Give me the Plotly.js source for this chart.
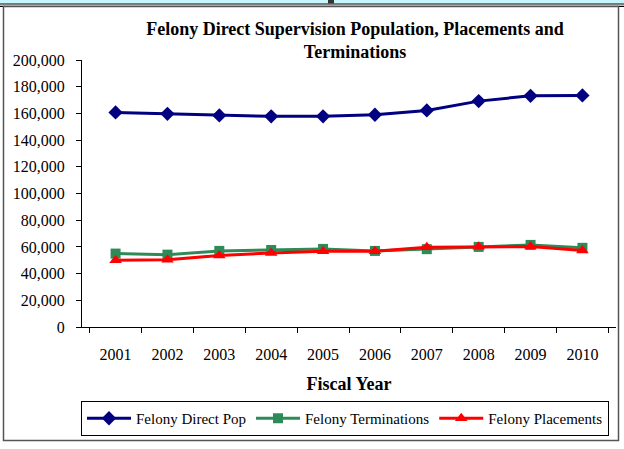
<!DOCTYPE html>
<html>
<head>
<meta charset="utf-8">
<script src="https://cdn.plot.ly/plotly-3.0.1.min.js"></script>
<style>
html,body{margin:0;padding:0;background:#fff;}
#chart{width:624px;height:449px;}
</style>
</head>
<body>
<div id="chart"></div>
<script>
const years = ['2001','2002','2003','2004','2005','2006','2007','2008','2009','2010'];
const directPop = [160700, 159700, 158500, 157800, 157800, 159000, 162200, 169200, 173200, 173500];
const terminations = [55000, 54200, 57000, 57700, 58500, 57000, 58300, 60000, 61500, 59300];
const placements = [50000, 50300, 53600, 55500, 56800, 56800, 59800, 60200, 60300, 57300];
const yTicks = [0, 20000, 40000, 60000, 80000, 100000, 120000, 140000, 160000, 180000, 200000];
const yTickText = ['0','20,000','40,000','60,000','80,000','100,000','120,000','140,000','160,000','180,000','200,000'];

const W = 624, H = 449;
const M = {l: 82, r: 8, t: 60, b: 122};
const pw = W - M.l - M.r, ph = H - M.t - M.b;
const px = x => (x - M.l) / pw;
const py = y => (H - M.b - y) / ph;

const font = 'Liberation Serif, Times New Roman, serif';

const traces = [
  {x: years, y: directPop, name: 'Felony Direct Pop', type: 'scatter', mode: 'lines+markers',
   line: {color: '#000080', width: 3}, marker: {symbol: 'diamond', size: 11, color: '#000080'}},
  {x: years, y: terminations, name: 'Felony Terminations', type: 'scatter', mode: 'lines+markers',
   line: {color: '#2e8b57', width: 3}, marker: {symbol: 'square', size: 10, color: '#2e8b57'}},
  {x: years, y: placements, name: 'Felony Placements', type: 'scatter', mode: 'lines+markers',
   line: {color: '#ff0000', width: 3}, marker: {symbol: 'triangle-up', size: 11, color: '#ff0000'}}
];

const shapes = [
  {type: 'rect', xref: 'paper', yref: 'paper', x0: px(0), x1: px(W), y0: py(0), y1: py(3.5), fillcolor: '#c4f6fc', line: {width: 0}, layer: 'below'},
  {type: 'line', xref: 'paper', yref: 'paper', x0: px(0), x1: px(W), y0: py(4), y1: py(4), line: {color: '#000', width: 1.2}},
  {type: 'line', xref: 'paper', yref: 'paper', x0: px(0), x1: px(W), y0: py(6.3), y1: py(6.3), line: {color: '#000', width: 1.2}},
  {type: 'rect', xref: 'paper', yref: 'paper', x0: px(328), x1: px(334), y0: py(0), y1: py(3.5), fillcolor: '#333', line: {width: 0}},
  {type: 'rect', xref: 'paper', yref: 'paper', x0: px(3.5), x1: px(618.5), y0: py(440.5), y1: py(6.5), line: {color: '#555', width: 1.5}, fillcolor: 'rgba(0,0,0,0)'}
];

const layout = {
  width: W, height: H,
  margin: M,
  paper_bgcolor: '#fff', plot_bgcolor: '#fff',
  font: {family: font, size: 16, color: '#000'},
  showlegend: true,
  title: {text: '<b>Felony Direct Supervision Population, Placements and<br>Terminations</b>',
          font: {family: font, size: 18, color: '#000'}, x: px(355), xref: 'paper', xanchor: 'center',
          y: 1 - 35 / H, yanchor: 'middle'},
  xaxis: {
    type: 'category', tickson: 'boundaries', ticks: 'outside', ticklen: 5, tickcolor: '#000',
    showline: true, linecolor: '#000', linewidth: 1, showgrid: false, zeroline: false,
    tickfont: {family: font, size: 16, color: '#000'}, ticklabelstandoff: 13,
    title: {text: '<b>Fiscal Year</b>', font: {family: font, size: 18, color: '#000'}, standoff: 15},
    fixedrange: true
  },
  yaxis: {
    range: [0, 200000], tickvals: yTicks, ticktext: yTickText, ticks: 'outside', ticklen: 5, tickcolor: '#000',
    showline: true, linecolor: '#000', linewidth: 1, showgrid: false, zeroline: false,
    tickfont: {family: font, size: 16, color: '#000'}, ticklabelstandoff: 8, fixedrange: true
  },
  legend: {
    orientation: 'h', x: px(345), xanchor: 'center', y: py(401), yanchor: 'top',
    bordercolor: '#000', borderwidth: 1, bgcolor: '#fff',
    font: {family: font, size: 15, color: '#000'}, itemwidth: 44, tracegroupgap: 0
  },
  shapes: shapes
};

Plotly.newPlot('chart', traces, layout, {displayModeBar: false, staticPlot: true});
</script>
</body>
</html>
